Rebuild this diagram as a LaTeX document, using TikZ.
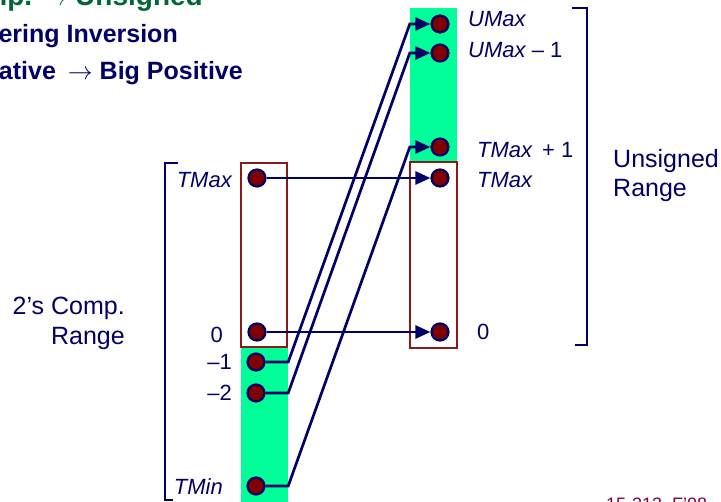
\documentclass[tikz,border=0pt]{standalone}
\usepackage{fontspec}
\setmainfont{Liberation Sans}
\usetikzlibrary{arrows.meta}
\definecolor{navy}{RGB}{0,0,102}
\definecolor{boxred}{RGB}{140,25,25}
\definecolor{dotred}{RGB}{128,0,0}
\definecolor{mint}{RGB}{0,255,153}
\definecolor{headgreen}{RGB}{0,102,51}
\definecolor{footred}{RGB}{128,0,64}

\begin{document}
\begin{tikzpicture}[x=1pt,y=-1pt,
    valdot/.style={circle,fill=dotred,draw=navy,line width=2.2pt,minimum size=17pt,inner sep=0pt},
    rangebar/.style={fill=mint,draw=none,minimum width=47pt,inner sep=0pt},
    rangebox/.style={draw=boxred,line width=2pt,minimum width=46pt,inner sep=0pt},
    link/.style={navy,line width=2.7pt,-{Triangle[length=15pt,width=13pt]}},
    vallabel/.style={navy,font=\fontsize{22}{26}\selectfont,inner sep=0pt},
    rangelabel/.style={navy,font=\fontsize{25}{30}\selectfont,inner sep=0pt},
    bulletline/.style={navy,font=\bfseries\fontsize{25}{30}\selectfont,inner sep=0pt,anchor=base east}]
  \useasboundingbox (0,0) rectangle (721,502);
  \clip (0,0) rectangle (721,502);

  % slide text, cut by the frame
  \node[bulletline,headgreen,font=\bfseries\fontsize{28}{32}\selectfont] (head) at (203,6) {2’s Comp. $\rightarrow$ Unsigned};
  \node[bulletline] (order) at (178,43) {Ordering Inversion};
  \node[bulletline] (negbig) at (243,80) {Negative\hspace{5pt} $\rightarrow$ Big Positive};
  \node[footred,font=\fontsize{18}{20}\selectfont,inner sep=0pt,anchor=north west] (foot) at (606,498) {15-213, F’08};

  % ranges
  \node[rangebar,minimum height=170pt] (lbar) at (264.5,432) {};
  \node[rangebar,minimum height=154pt] (rbar) at (433.5,85) {};
  \node[rangebox,minimum height=184pt] (lbox) at (264,255) {};
  \node[rangebox,minimum width=47pt,minimum height=186pt] (rbox) at (433.5,255) {};

  % brackets
  \draw[navy,line width=2pt] (178,163) -- (165,163) -- (165,500) -- (173,500);
  \draw[navy,line width=2pt] (572,8) -- (587,8) -- (587,345) -- (575,345);

  % values
  \node[valdot] (s-tmax) at (257,178) {};
  \node[valdot] (s-zero) at (257,332) {};
  \node[valdot] (s-m1) at (256,362) {};
  \node[valdot] (s-m2) at (256,393) {};
  \node[valdot] (s-tmin) at (256,486) {};
  \node[valdot] (u-max) at (440,24) {};
  \node[valdot] (u-max1) at (440,53) {};
  \node[valdot] (u-tmax1) at (440,147) {};
  \node[valdot] (u-tmax) at (440,178) {};
  \node[valdot] (u-zero) at (440,332) {};

  % mapping
  \draw[link] (s-tmax) -- (u-tmax);
  \draw[link] (s-zero) -- (u-zero);
  \draw[link] (s-m1) -- (s-m1 -| lbar.east) -- (u-max -| rbar.west) -- (u-max);
  \draw[link] (s-m2) -- (s-m2 -| lbar.east) -- (u-max1 -| rbar.west) -- (u-max1);
  \draw[link] (s-tmin) -- (s-tmin -| lbar.east) -- (u-tmax1 -| rbar.west) -- (u-tmax1);

  % labels
  \node[vallabel,anchor=base east] (t-tmax) at (232,188) {\itshape TMax};
  \node[vallabel,anchor=base east] (t-zero) at (223,343) {0};
  \node[vallabel,anchor=base east] (t-m1) at (232,370) {–1};
  \node[vallabel,anchor=base east] (t-m2) at (232,401) {–2};
  \node[vallabel,anchor=base east] (t-tmin) at (223,495) {\itshape TMin};
  \node[vallabel,anchor=base west] (v-max) at (468,27) {\itshape UMax};
  \node[vallabel,anchor=base west] (v-max1) at (468,58) {{\itshape UMax} – 1};
  \node[vallabel,anchor=base west] (v-tmax1) at (477,158) {{\itshape TMax}\hspace{10pt}+ 1};
  \node[vallabel,anchor=base west] (v-tmax) at (477,188) {\itshape TMax};
  \node[vallabel,anchor=base west] (v-zero) at (477,340) {0};

  \node[rangelabel,anchor=base east] (s-name) at (125,315) {2’s Comp.};
  \node[rangelabel,anchor=base east] (s-range) at (125,345) {Range};
  \node[rangelabel,anchor=base west] (u-name) at (613,168) {Unsigned};
  \node[rangelabel,anchor=base west] (u-range) at (613,197) {Range};
\end{tikzpicture}
\end{document}
